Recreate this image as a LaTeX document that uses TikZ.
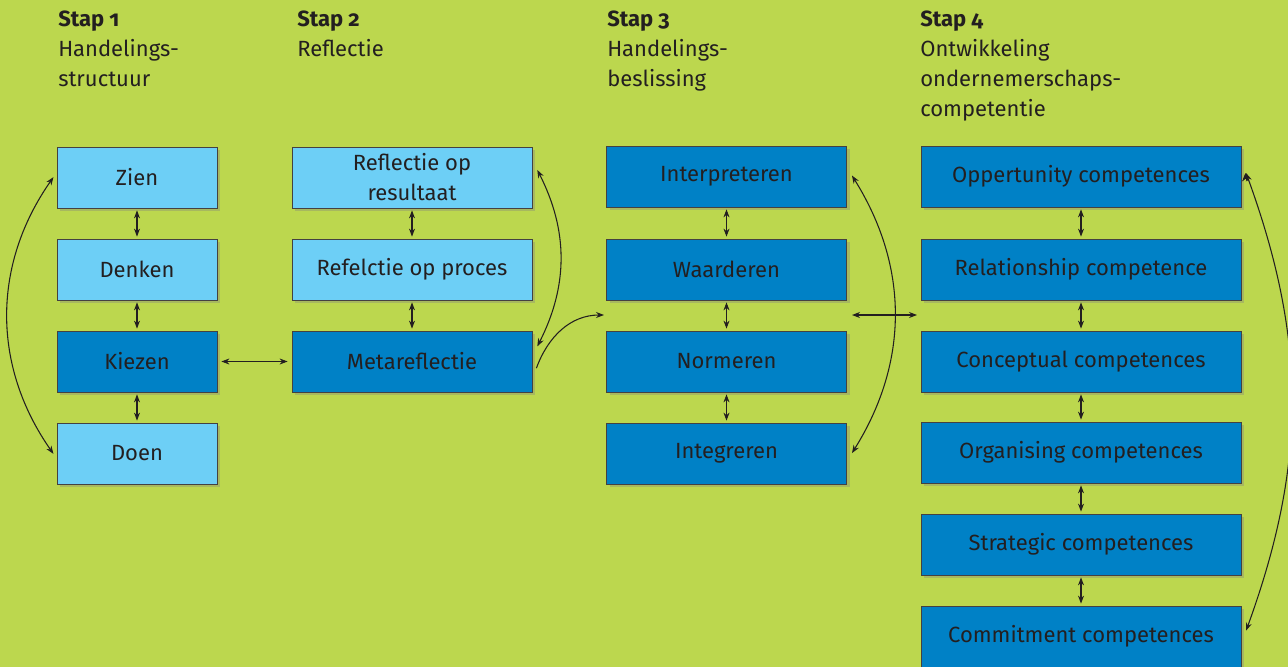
\documentclass[tikz,border=0pt]{standalone}
\usepackage{fontspec}
\setmainfont{Fira Sans}[Numbers=OldStyle]
\usetikzlibrary{arrows.meta,positioning,shadows}
\definecolor{bggreen}{HTML}{BCD74E}
\definecolor{lichtblauw}{HTML}{6DCFF6}
\definecolor{donkerblauw}{HTML}{0081C6}
\definecolor{tekst}{HTML}{231F20}

\begin{document}
\begin{tikzpicture}
	[x=0.75pt,y=-0.75pt,>={Stealth[length=6pt,width=4.5pt]},
	box/.style={shape=rectangle,draw=tekst!85,line width=0.6pt,minimum height=45.75pt,
		text=tekst,align=center,font=\fontsize{16.5}{22.5}\selectfont,
		drop shadow={opacity=0.35,shadow xshift=2.5pt,shadow yshift=-2.5pt}},
	licht/.style={box,fill=lichtblauw},
	donker/.style={box,fill=donkerblauw},
	kop/.style={anchor=north west,align=left,text=tekst,inner sep=0pt,
		font=\fontsize{16.5}{22.5}\selectfont},
	pijl/.style={<->,draw=tekst,line width=0.8pt,shorten <=1.5pt,shorten >=1.5pt}]
	\fill[bggreen] (0,0) rectangle (1288,667);
	\useasboundingbox (0,0) rectangle (1288,667);
	
	% koppen
	\node [kop] (kop1) at (58,11) {\textbf{Stap 1}\\Handelings-\\structuur};
	\node [kop] (kop2) at (297,11) {\textbf{Stap 2}\\Reflectie};
	\node [kop] (kop3) at (607,11) {\textbf{Stap 3}\\Handelings-\\beslissing};
	\node [kop] (kop4) at (920,11) {\textbf{Stap 4}\\Ontwikkeling\\ondernemerschaps-\\competentie};
	
	% stap 1
	\node [licht,minimum width=120pt] (zien) at (137,177.5) {Zien};
	\node [licht,minimum width=120pt] (denken) at (137,269.5) {Denken};
	\node [donker,minimum width=120pt] (kiezen) at (137,361.5) {Kiezen};
	\node [licht,minimum width=120pt] (doen) at (137,453.5) {Doen};
	
	% stap 2
	\node [licht,minimum width=180pt] (resultaat) at (412,177.5) {Reflectie op\\resultaat};
	\node [licht,minimum width=180pt] (proces) at (412,269.5) {Refelctie op proces};
	\node [donker,minimum width=180pt] (meta) at (412,361.5) {Metareflectie};
	
	% stap 3
	\node [donker,minimum width=180pt] (interpreteren) at (726.5,176.5) {Interpreteren};
	\node [donker,minimum width=180pt] (waarderen) at (726.5,269.5) {Waarderen};
	\node [donker,minimum width=180pt] (normeren) at (726.5,361.5) {Normeren};
	\node [donker,minimum width=180pt] (integreren) at (726.5,453.5) {Integreren};
	
	% stap 4
	\node [donker,minimum width=240pt] (opp) at (1081,176.5) {Oppertunity competences};
	\node [donker,minimum width=240pt] (rel) at (1081,269.5) {Relationship competence};
	\node [donker,minimum width=240pt] (con) at (1081,361.5) {Conceptual competences};
	\node [donker,minimum width=240pt] (org) at (1081,452.5) {Organising competences};
	\node [donker,minimum width=240pt] (str) at (1081,544.5) {Strategic competences};
	\node [donker,minimum width=240pt] (com) at (1081,636.5) {Commitment competences};
	
	\coordinate (in3) at (604,315);
	\coordinate (uit3) at (852,315);
	\coordinate (in4) at (917,315);
	
	\path [pijl]
	(zien) edge (denken)
	(denken) edge (kiezen)
	(kiezen) edge (doen)
	(resultaat) edge (proces)
	(proces) edge (meta)
	(interpreteren) edge (waarderen)
	(waarderen) edge (normeren)
	(normeren) edge (integreren)
	(opp) edge (rel)
	(rel) edge (con)
	(con) edge (org)
	(org) edge (str)
	(str) edge (com)
	(kiezen) edge [shorten <=3pt,shorten >=3pt] (meta)
	(uit3) edge [shorten <=0pt,shorten >=0pt] (in4)
	([xshift=-1.5pt,yshift=1.5pt]zien.west) edge [bend right=35] ([xshift=-1.5pt,yshift=-1.5pt]doen.west)
	([xshift=3pt,yshift=7pt]resultaat.east) edge [bend left=27] ([xshift=3pt,yshift=10pt]meta.east)
	([xshift=3pt,yshift=2pt]interpreteren.east) edge [bend left=32] ([xshift=3pt,yshift=-1pt]integreren.east)
	([xshift=3pt,yshift=4pt]opp.east) edge [bend left=20] ([xshift=3pt,yshift=3pt]com.east);
	
	\draw [->,tekst,line width=0.8pt] ([xshift=3pt,yshift=-5pt]meta.east) to [out=70,in=180] (in3);
	
\end{tikzpicture}
\end{document}
